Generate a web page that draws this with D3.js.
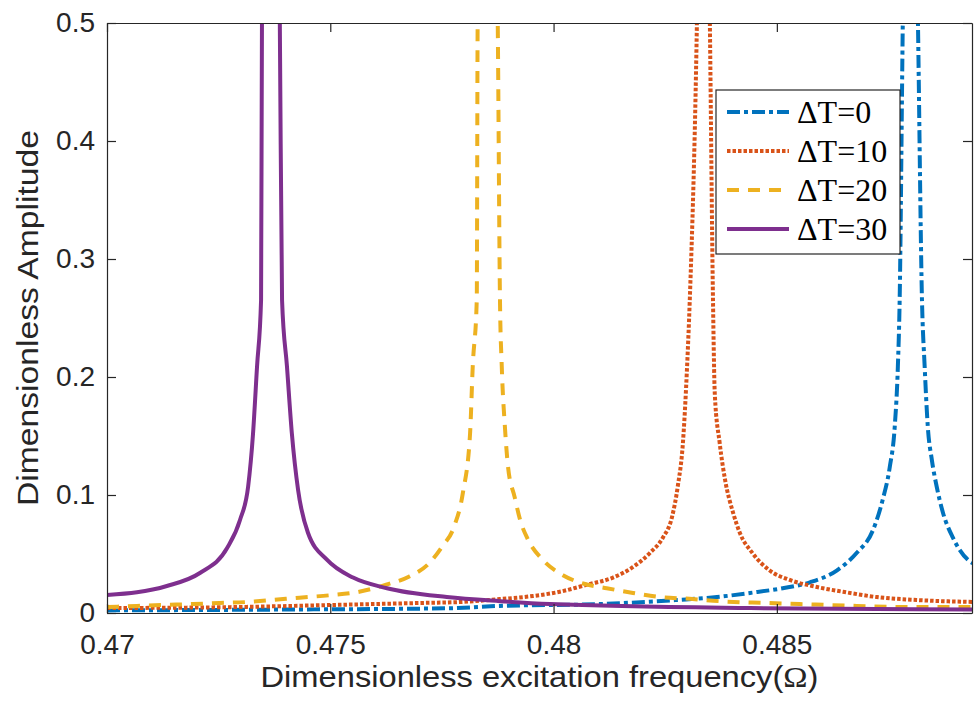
<!DOCTYPE html>
<html>
<head>
<meta charset="utf-8">
<script src="https://cdn.jsdelivr.net/npm/d3@7"></script>
<style>
  body { margin: 0; background: #fff; }
  svg { display: block; }
</style>
</head>
<body>
<svg id="chart" width="974" height="707"></svg>
<script>
// data (peaks run off the top of the axes)
const series = ['ΔT=0', 'ΔT=10', 'ΔT=20', 'ΔT=30'];

const dT0 = [
    [0.47000, 0.0022], [0.47432, 0.0030], [0.47761, 0.0040], [0.47880, 0.0060],
    [0.48104, 0.0076], [0.48276, 0.0110], [0.48366, 0.0135], [0.48440, 0.0170],
    [0.48513, 0.0210], [0.48574, 0.0260], [0.48634, 0.0360], [0.48679, 0.0510],
    [0.48715, 0.0700], [0.48737, 0.0960], [0.48753, 0.1240], [0.48764, 0.1580],
    [0.48771, 0.2090], [0.48775, 0.2650], [0.48782, 0.5000], [0.48799, 0.9000],
    [0.48816, 0.5000], [0.48825, 0.2650], [0.48831, 0.2090], [0.48838, 0.1580],
    [0.48847, 0.1300], [0.48858, 0.1070], [0.48872, 0.0850], [0.48894, 0.0640],
    [0.48928, 0.0450], [0.48945, 0.0410]
];

const dT10 = [
    [0.47000, 0.0042], [0.47282, 0.0050], [0.47506, 0.0068], [0.47701, 0.0085],
    [0.47790, 0.0093], [0.47880, 0.0118], [0.47954, 0.0144], [0.48014, 0.0180],
    [0.48075, 0.0240], [0.48133, 0.0300], [0.48178, 0.0390], [0.48216, 0.0510],
    [0.48245, 0.0640], [0.48265, 0.0810], [0.48278, 0.1070], [0.48290, 0.1460],
    [0.48299, 0.2090], [0.48305, 0.2650], [0.48321, 0.5000], [0.48335, 0.9000],
    [0.48350, 0.5000], [0.48357, 0.2650], [0.48361, 0.1860], [0.48372, 0.1440],
    [0.48384, 0.1130], [0.48402, 0.0850], [0.48417, 0.0680], [0.48446, 0.0505],
    [0.48484, 0.0360], [0.48529, 0.0280], [0.48590, 0.0220], [0.48648, 0.0180],
    [0.48724, 0.0135], [0.48813, 0.0110], [0.48945, 0.0093]
];

const dT20 = [
    [0.47000, 0.0050], [0.47067, 0.0060], [0.47125, 0.0068], [0.47192, 0.0076],
    [0.47252, 0.0085], [0.47313, 0.0093], [0.47371, 0.0110], [0.47431, 0.0130],
    [0.47498, 0.0150], [0.47565, 0.0180], [0.47625, 0.0240], [0.47677, 0.0310],
    [0.47721, 0.0420], [0.47750, 0.0560], [0.47777, 0.0730], [0.47797, 0.1020],
    [0.47813, 0.1520], [0.47819, 0.2090], [0.47828, 0.2650], [0.47830, 0.5000],
    [0.47853, 0.9000], [0.47875, 0.5000], [0.47880, 0.2650], [0.47884, 0.2090],
    [0.47891, 0.1580], [0.47898, 0.1240], [0.47913, 0.0980], [0.47925, 0.0790],
    [0.47943, 0.0620], [0.47976, 0.0450], [0.48021, 0.0320], [0.48066, 0.0250],
    [0.48119, 0.0210], [0.48178, 0.0170], [0.48238, 0.0135], [0.48305, 0.0120],
    [0.48372, 0.0100], [0.48478, 0.0085], [0.48551, 0.0076], [0.48679, 0.0060],
    [0.48813, 0.0050], [0.48945, 0.0050]
];

const dT30 = [
    [0.47000, 0.0152], [0.47134, 0.0229], [0.47208, 0.0339], [0.47269, 0.0550],
    [0.47298, 0.0790], [0.47316, 0.1070], [0.47327, 0.1520], [0.47336, 0.2090],
    [0.47345, 0.2650], [0.47347, 0.5000], [0.47367, 0.9000], [0.47387, 0.5000],
    [0.47392, 0.2650], [0.47403, 0.2090], [0.47414, 0.1520], [0.47428, 0.1040],
    [0.47450, 0.0680], [0.47493, 0.0450], [0.47551, 0.0300], [0.47627, 0.0210],
    [0.47761, 0.0135], [0.47880, 0.0100], [0.47992, 0.0076], [0.48440, 0.0042],
    [0.48945, 0.0030]
];

const xTicks = [0.47, 0.475, 0.48, 0.485];
const xTickLabels = ['0.47', '0.475', '0.48', '0.485'];
const yTicks = [0, 0.1, 0.2, 0.3, 0.4, 0.5];
const yTickLabels = ['0', '0.1', '0.2', '0.3', '0.4', '0.5'];

const allData = [dT0, dT10, dT20, dT30];
const colors = ['#0072BD', '#D95319', '#EDB120', '#7E2F8E'];
const dashes = ['13,4,4,4', '3.5,2', '12,9', null];

const svg = d3.select('#chart');
const margin = { top: 23, right: 2, bottom: 94, left: 107 };
const width = +svg.attr('width') - margin.left - margin.right;
const height = +svg.attr('height') - margin.top - margin.bottom;
const axisColor = '#262626';
const sans = 'Arial, "Liberation Sans", Helvetica, sans-serif';
const serif = '"Times New Roman", "Liberation Serif", serif';

const g = svg.append('g')
    .attr('transform', `translate(${margin.left},${margin.top})`);

// SCALES
const x = d3.scaleLinear().domain([0.47, 0.48937]).range([0, width]);
const y = d3.scaleLinear().domain([0, 0.5]).range([height, 0]);

// CLIP
g.append('clipPath').attr('id', 'clip')
    .append('rect').attr('width', width).attr('height', height);

// LINES
const line = d3.line()
    .x(d => x(d[0]))
    .y(d => y(d[1]))
    .curve(d3.curveMonotoneX);

g.append('g').attr('clip-path', 'url(#clip)')
    .selectAll('path')
    .data(allData)
    .enter()
    .append('path')
    .attr('d', line)
    .attr('fill', 'none')
    .attr('stroke', (d, i) => colors[i])
    .attr('stroke-width', 4)
    .attr('stroke-dasharray', (d, i) => dashes[i]);

// AXES
function styleAxis(sel) {
    sel.selectAll('path.domain').attr('stroke', axisColor).attr('stroke-width', 1.2);
    sel.selectAll('.tick line').attr('stroke', axisColor).attr('stroke-width', 1.2);
    sel.selectAll('text').attr('fill', axisColor).style('font-family', sans).style('font-size', '28px');
}

g.append('g')
    .attr('transform', `translate(0,${height})`)
    .call(d3.axisBottom(x).tickValues(xTicks).tickFormat((d, i) => xTickLabels[i])
        .tickSize(-9).tickSizeOuter(0).tickPadding(21))
    .call(styleAxis);

g.append('g')
    .call(d3.axisTop(x).tickValues(xTicks).tickFormat('').tickSize(-9).tickSizeOuter(0))
    .call(styleAxis);

g.append('g')
    .call(d3.axisLeft(y).tickValues(yTicks).tickFormat((d, i) => yTickLabels[i])
        .tickSize(-9).tickSizeOuter(0).tickPadding(12))
    .call(styleAxis);

g.append('g')
    .attr('transform', `translate(${width},0)`)
    .call(d3.axisRight(y).tickValues(yTicks).tickFormat('').tickSize(-9).tickSizeOuter(0))
    .call(styleAxis);

// AXIS LABELS
const xLabel = g.append('text')
    .attr('x', width / 2 - 279)
    .attr('y', height + 74)
    .attr('textLength', 558)
    .attr('lengthAdjust', 'spacingAndGlyphs')
    .attr('fill', axisColor)
    .style('font-family', sans)
    .style('font-size', '29px');
xLabel.append('tspan').text('Dimensionless excitation frequency(');
xLabel.append('tspan').style('font-family', serif).text('Ω');
xLabel.append('tspan').text(')');

g.append('text')
    .attr('transform', `translate(${38 - margin.left},${height / 2 + 188}) rotate(-90)`)
    .attr('textLength', 376)
    .attr('lengthAdjust', 'spacingAndGlyphs')
    .attr('fill', axisColor)
    .style('font-family', sans)
    .style('font-size', '29px')
    .text('Dimensionless Amplitude');

// LEGEND
const legend = g.append('g').attr('transform', `translate(${716 - margin.left},${90 - margin.top})`);
legend.append('rect')
    .attr('width', 184).attr('height', 164)
    .attr('fill', '#fff').attr('stroke', axisColor).attr('stroke-width', 1.2);

const items = legend.selectAll('g.item')
    .data(series)
    .enter()
    .append('g')
    .attr('class', 'item')
    .attr('transform', (d, i) => `translate(0,${22 + i * 39})`);

items.append('line')
    .attr('x1', 11).attr('x2', 73)
    .attr('stroke', (d, i) => colors[i])
    .attr('stroke-width', 4)
    .attr('stroke-dasharray', (d, i) => dashes[i]);

items.append('text')
    .attr('x', 81)
    .attr('dy', '0.35em')
    .attr('fill', '#000')
    .style('font-family', serif)
    .style('font-size', '32px')
    .text(d => d);
</script>
</body>
</html>
